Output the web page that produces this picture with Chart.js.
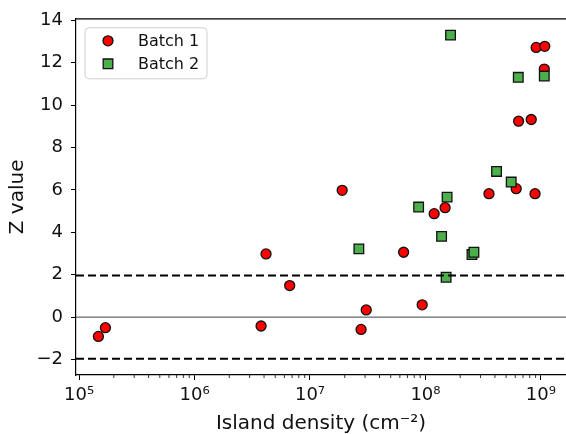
<!DOCTYPE html>
<html>
<head>
<meta charset="utf-8">
<title>Z value vs island density</title>
<script src="https://cdn.jsdelivr.net/npm/chart.js@4.4.0/dist/chart.umd.min.js"></script>
<style>
    html, body { margin: 0; padding: 0; background: #ffffff; overflow: hidden; }
    #wrap { width: 566px; height: 434px; }
</style>
</head>
<body>
<div id="wrap"><canvas id="zChart" width="566" height="434"></canvas></div>
<script>
// Data
const batch1X = [1.47e5, 1.69e5, 3.77e6, 4.16e6, 6.67e6, 1.90e7, 2.77e7, 3.07e7, 6.47e7, 9.37e7,
                 1.19e8, 1.48e8, 3.55e8, 6.11e8, 8.90e8, 6.41e8, 8.25e8, 9.10e8, 1.08e9, 1.07e9];
const batch1Y = [-0.91, -0.50, -0.42, 2.98, 1.49, 5.98, -0.58, 0.34, 3.06, 0.58,
                 4.88, 5.16, 5.82, 6.06, 5.82, 9.24, 9.32, 12.72, 12.77, 11.70];

const batch2X = [2.65e7, 8.73e7, 1.38e8, 1.51e8, 1.54e8, 1.65e8, 2.53e8, 2.63e8, 4.13e8, 5.53e8, 6.37e8, 1.07e9];
const batch2Y = [3.22, 5.19, 3.81, 1.88, 5.66, 13.30, 2.95, 3.06, 6.87, 6.37, 11.31, 11.37];

const seriesNames = ['Batch 1', 'Batch 2'];

// Axis ranges and ticks
const xMin = 9.4e4;
const xMax = 1.65e9;
const xDecades = [5, 6, 7, 8, 9];
const yMin = -2.73;
const yMax = 14.07;
const yTickValues = [-2, 0, 2, 4, 6, 8, 10, 12, 14];

// Reference lines
const dashedLevels = [1.96, -1.96];
const zeroLevel = 0;

const FONT = 'DejaVu Sans';
const TEXT = '#111111';
const superDigits = { '0': '⁰', '1': '¹', '2': '²', '3': '³', '4': '⁴', '5': '⁵', '6': '⁶', '7': '⁷', '8': '⁸', '9': '⁹' };

function toPoints(xs, ys) {
    return xs.map((x, i) => ({ x: x, y: ys[i] }));
}

const pointStyles = [
    { pointStyle: 'circle', radius: 5, fill: '#ff0000' },
    { pointStyle: 'rect', radius: 6.8, fill: '#4caf4c' }
];

// Reference lines, minor ticks, top frame and the legend box
const extrasPlugin = {
    id: 'extras',
    afterDatasetsDraw(chart) {
        const ctx = chart.ctx;
        const area = chart.chartArea;
        const y = chart.scales.y;
        ctx.save();
        // dashed lines
        ctx.strokeStyle = '#000000';
        ctx.lineWidth = 2;
        ctx.setLineDash([8, 4]);
        dashedLevels.forEach(v => {
            const py = y.getPixelForValue(v);
            ctx.beginPath();
            ctx.moveTo(area.left, py);
            ctx.lineTo(area.right, py);
            ctx.stroke();
        });
        // zero line
        ctx.setLineDash([]);
        ctx.lineWidth = 1;
        ctx.strokeStyle = '#404040';
        const pz = y.getPixelForValue(zeroLevel);
        ctx.beginPath();
        ctx.moveTo(area.left, pz);
        ctx.lineTo(area.right, pz);
        ctx.stroke();
        ctx.restore();
    },
    afterDraw(chart) {
        const ctx = chart.ctx;
        const area = chart.chartArea;
        const x = chart.scales.x;
        ctx.save();
        // top frame
        ctx.strokeStyle = '#000000';
        ctx.lineWidth = 1.2;
        ctx.beginPath();
        ctx.moveTo(area.left, area.top);
        ctx.lineTo(area.right, area.top);
        ctx.stroke();
        // minor ticks on the log axis
        ctx.lineWidth = 0.8;
        x.ticks.forEach(t => {
            if (t.major) return;
            const px = x.getPixelForValue(t.value);
            ctx.beginPath();
            ctx.moveTo(px, area.bottom);
            ctx.lineTo(px, area.bottom + 3);
            ctx.stroke();
        });
        // legend
        const bx = area.left + 9, by = area.top + 9, bw = 122, bh = 51;
        ctx.beginPath();
        ctx.roundRect(bx, by, bw, bh, 4);
        ctx.fillStyle = 'rgba(255,255,255,0.8)';
        ctx.fill();
        ctx.strokeStyle = '#d0d0d0';
        ctx.lineWidth = 1;
        ctx.stroke();
        ctx.font = '16px "' + FONT + '"';
        ctx.textBaseline = 'middle';
        ctx.textAlign = 'left';
        chart.data.datasets.forEach((ds, i) => {
            const cy = by + 13 + i * 23;
            const cx = bx + 23;
            ctx.beginPath();
            if (ds.pointStyle === 'rect') {
                const s = ds.pointRadius * Math.SQRT1_2;
                ctx.rect(cx - s, cy - s, 2 * s, 2 * s);
            } else {
                ctx.arc(cx, cy, ds.pointRadius, 0, Math.PI * 2);
            }
            ctx.fillStyle = ds.backgroundColor;
            ctx.fill();
            ctx.strokeStyle = ds.borderColor;
            ctx.lineWidth = ds.borderWidth;
            ctx.stroke();
            ctx.fillStyle = TEXT;
            ctx.fillText(ds.label, bx + 53, cy + 1);
        });
        ctx.restore();
    }
};

const ctxZ = document.getElementById('zChart').getContext('2d');

new Chart(ctxZ, {
    type: 'scatter',
    data: {
        datasets: [
            {
                label: seriesNames[0],
                data: toPoints(batch1X, batch1Y),
                pointStyle: pointStyles[0].pointStyle,
                pointRadius: pointStyles[0].radius,
                pointHoverRadius: pointStyles[0].radius,
                backgroundColor: pointStyles[0].fill,
                borderColor: '#111111',
                borderWidth: 1.3,
                order: 1
            },
            {
                label: seriesNames[1],
                data: toPoints(batch2X, batch2Y),
                pointStyle: pointStyles[1].pointStyle,
                pointRadius: pointStyles[1].radius,
                pointHoverRadius: pointStyles[1].radius,
                backgroundColor: pointStyles[1].fill,
                borderColor: '#111111',
                borderWidth: 1.3,
                order: 0
            }
        ]
    },
    options: {
        responsive: false,
        animation: false,
        clip: false,
        layout: {
            autoPadding: false, // plot runs right up to the edge of the picture
            padding: { top: 18, right: 0, bottom: 0, left: 0 }
        },
        plugins: {
            legend: { display: false },
            tooltip: { enabled: false }
        },
        scales: {
            x: {
                type: 'logarithmic',
                min: xMin,
                max: xMax,
                afterBuildTicks(scale) {
                    const ticks = [];
                    xDecades.forEach(d => {
                        for (let m = 1; m <= 9; m++) {
                            const v = m * Math.pow(10, d);
                            if (v >= xMin && v <= xMax) ticks.push({ value: v, major: m === 1 });
                        }
                    });
                    scale.ticks = ticks;
                },
                afterFit(scale) {
                    scale.height = 59;
                    scale.paddingRight = 0;
                },
                border: { display: true, color: '#000000', width: 1.2 },
                grid: {
                    display: true,
                    drawOnChartArea: false,
                    tickLength: 5,
                    tickWidth: 1,
                    tickColor: c => (c.tick && c.tick.major) ? '#000000' : 'rgba(0,0,0,0)'
                },
                ticks: {
                    autoSkip: false,
                    maxRotation: 0,
                    padding: 5,
                    color: TEXT,
                    font: { family: FONT, size: 18 },
                    callback: function (value, index, ticks) {
                        if (!ticks[index].major) return '';
                        const exp = String(Math.round(Math.log10(value)));
                        return '10' + exp.split('').map(ch => superDigits[ch]).join('');
                    }
                },
                title: {
                    display: true,
                    text: 'Island density (cm⁻²)',
                    color: TEXT,
                    font: { family: FONT, size: 20, lineHeight: 1 },
                    padding: { top: 0, bottom: 0 }
                }
            },
            y: {
                type: 'linear',
                min: yMin,
                max: yMax,
                afterBuildTicks(scale) {
                    scale.ticks = yTickValues.map(v => ({ value: v }));
                },
                afterFit(scale) { scale.width = 76; },
                border: { display: true, color: '#000000', width: 1.2 },
                grid: {
                    display: true,
                    drawOnChartArea: false,
                    tickLength: 5,
                    tickWidth: 1,
                    tickColor: '#000000'
                },
                ticks: {
                    padding: 8,
                    color: TEXT,
                    font: { family: FONT, size: 18 },
                    callback: v => (v < 0 ? '\u2212' + Math.abs(v) : String(v))
                },
                title: {
                    display: true,
                    text: 'Z value',
                    color: TEXT,
                    font: { family: FONT, size: 20, lineHeight: 1.2 },
                    padding: { top: 6, bottom: 0 }
                }
            }
        }
    },
    plugins: [extrasPlugin]
});
</script>
</body>
</html>
